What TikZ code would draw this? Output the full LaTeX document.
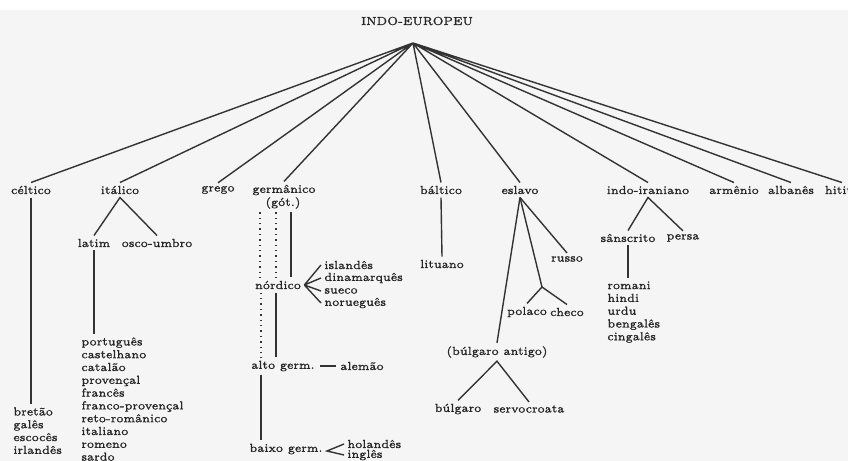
\documentclass[tikz,border=0pt]{standalone}
\usepackage{fontspec}
\newfontfamily\scanfont{Latin Modern Roman}[FakeBold=1.2]
\usepackage{tikz}

\begin{document}
\begin{tikzpicture}[x=0.5pt,y=-0.5pt,
  lbl/.style={inner sep=1.5pt,font=\scanfont\fontsize{5.8}{6.4}\selectfont,text=black!85},
  lst/.style={lbl,align=left,anchor=north west},
  branch/.style={line width=0.7pt,black!80}]
  \useasboundingbox (0,0) rectangle (848,461);
  \fill[black!4] (0,10) rectangle (848,461);

  \node[lbl] (ie) at (417,21) {INDO-EUROPEU};
  \coordinate (root) at (413,43);

  \node[lbl] (celt) at (31,190) {céltico};
  \node[lbl] (ital) at (120,190) {itálico};
  \node[lbl] (greg) at (218,190) {grego};
  \node[lbl] (germ) at (284,190) {germânico};
  \node[lbl] (got) at (283,203) {(gót.)};
  \node[lbl] (balt) at (441,190) {báltico};
  \node[lbl] (esl) at (520,190) {eslavo};
  \node[lbl] (indir) at (648,190) {indo-iraniano};
  \node[lbl] (arm) at (734,190) {armênio};
  \node[lbl] (alb) at (791,190) {albanês};
  \node[lbl] (hit) at (842,190) {hitita};

  \draw[branch] (root) -- (celt.north) (root) -- (ital.north)
    (root) -- (greg.north) (root) -- (germ.north)
    (root) -- (balt.north) (root) -- (esl.north)
    (root) -- (indir.north) (root) -- (arm.north)
    (root) -- (alb.north) (root) -- (hit.north);

  % celtico
  \node[lst] (cellist) at (10,404) {bretão\\galês\\escocês\\irlandês};
  \draw[branch] (celt.south) -- (celt.south |- cellist.north);

  % italico
  \node[lbl] (latim) at (94,243) {latim};
  \node[lbl] (osco) at (157,243) {osco-umbro};
  \draw[branch] (latim.north) -- (ital.south) -- (osco.north);
  \node[lst] (romlist) at (78,334) {português\\castelhano\\catalão\\provençal\\francês\\franco-provençal\\reto-românico\\italiano\\romeno\\sardo};
  \draw[branch] (latim.south) -- (latim.south |- romlist.north);

  % germanico
  \node[lbl] (nord) at (278,285) {nórdico};
  \node[lbl,anchor=west] (isl) at (321,265) {islandês};
  \node[lbl,anchor=west] (din) at (321,278) {dinamarquês};
  \node[lbl,anchor=west] (sue) at (321,291) {sueco};
  \node[lbl,anchor=west] (nor) at (321,303) {norueguês};
  \node[lbl] (alto) at (283,366) {alto germ.};
  \node[lbl] (alem) at (362,366) {alemão};
  \node[lbl] (bx) at (286,449) {baixo germ.};
  \node[lbl,anchor=west] (hol) at (344,444) {holandês};
  \node[lbl,anchor=west] (ing) at (344,455) {inglês};
  \coordinate (bxtip) at (327,451);

  \draw[branch,dotted] (260,0 |- got.south) -- (260,0 |- nord.north);
  \draw[branch,dotted] (276,0 |- got.south) -- (276,0 |- nord.north);
  \draw[branch] (291,0 |- got.south) -- (291,0 |- nord.north);
  \draw[branch] (nord.east) -- (isl.west) (nord.east) -- (din.west)
    (nord.east) -- (sue.west) (nord.east) -- (nor.west);
  \draw[branch,dotted] (261,0 |- nord.south) -- (261,0 |- alto.north);
  \draw[branch] (276,0 |- nord.south) -- (276,0 |- alto.north);
  \draw[branch,shorten <=1pt,shorten >=0.5pt] (alto.east) -- (alem.west);
  \draw[branch] (261,0 |- alto.south) -- (261,0 |- bx.north);
  \draw[branch] (hol.west) -- (bxtip) -- (ing.west);

  % baltico
  \node[lbl] (lit) at (442,264) {lituano};
  \draw[branch] (balt.south) -- (lit.north);

  % eslavo
  \node[lbl] (rus) at (567,259) {russo};
  \node[lbl] (pol) at (527,312) {polaco};
  \node[lbl] (chec) at (567,312) {checo};
  \coordinate (polj) at (542,287);
  \node[lbl] (bant) at (497,352) {(búlgaro antigo)};
  \node[lbl] (bulg) at (458,409) {búlgaro};
  \node[lbl] (serv) at (529,409) {servocroata};
  \draw[branch] (esl.south) -- (rus.north);
  \draw[branch] (esl.south) -- (polj);
  \draw[branch] (pol.north) -- (polj) -- (chec.north);
  \draw[branch] (esl.south) -- (bant.north);
  \draw[branch] (bulg.north) -- (bant.south) -- (serv.north);

  % indo-iraniano
  \node[lbl] (sansk) at (628,238) {sânscrito};
  \node[lbl] (persa) at (683,238) {persa};
  \draw[branch] (sansk.north) -- (indir.south) -- (persa.north);
  \node[lst] (sktlist) at (604,278) {romani\\hindi\\urdu\\bengalês\\cingalês};
  \draw[branch] (sansk.south) -- (sansk.south |- sktlist.north);
\end{tikzpicture}
\end{document}
